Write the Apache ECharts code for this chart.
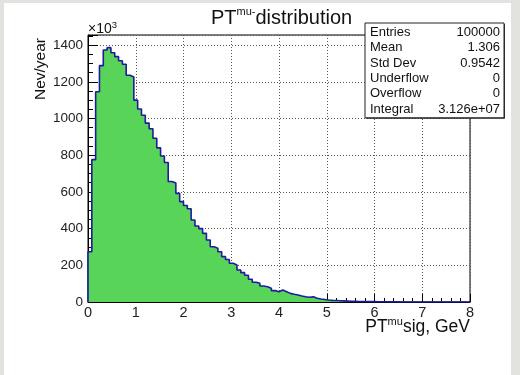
<!DOCTYPE html>
<html><head><meta charset="utf-8">
<script src="https://cdn.jsdelivr.net/npm/echarts@6/dist/echarts.min.js"></script>
<style>html,body{margin:0;padding:0;background:#fff}#c{width:520px;height:375px}</style>
</head><body><div id="c"></div>
<script>
// Histogram: PT(mu-) distribution, bin contents in units of 10^3 (Nev/year)
const binWidth = 0.08;
const xMin = 0, xMax = 8;
const yMax = 1455;
const counts = [
  274, 776, 1146, 1288, 1373, 1386, 1358, 1337, 1315, 1296,
  1236, 1226, 1100, 1052, 1018, 975, 944, 892, 840, 796,
  760, 657, 648, 592, 547, 526, 508, 447, 414, 400,
  374, 338, 301, 293, 274, 247, 232, 211, 202, 174,
  160, 146, 124, 108, 102, 87, 83, 75, 62, 56,
  65, 56, 47, 42, 38, 33, 29, 26, 28, 20,
  16, 14, 11, 9, 8, 7, 6, 5, 4, 4,
  3, 3, 2, 2, 2, 1.5, 1.2, 1, 0.8, 0.6,
  0.5, 0.4, 0.3, 0.3, 0.2, 0.2, 0.2, 0.1, 0.1, 0.1,
  0.1, 0.1, 0, 0, 0.1, 0, 0, 0, 0, 0
];
const xTickLabels = ['0','1','2','3','4','5','6','7','8'];
const yTickStep = 200;
const statsLabels = ['Entries', 'Mean', 'Std Dev', 'Underflow', 'Overflow', 'Integral'];
const statsValues = ['100000', '1.306', '0.9542', '0', '0', '3.126e+07'];
const titleParts = ['PT', 'mu-', 'distribution'];
const xNameParts = ['PT', 'mu', 'sig, GeV'];
const yName = 'Nev/year';
const yExponent = ['\u00d710', '3'];

const FONT = "'Liberation Sans', Arial, Helvetica, sans-serif";

// step-line points: low edge of each bin with its content
const pts = [[xMin, 0]];
counts.forEach((v, i) => pts.push([xMin + i * binWidth, v]));
pts.push([xMax, counts[counts.length - 1]]);
pts.push([xMax, 0]);

const chart = echarts.init(document.getElementById('c'), null, {renderer: 'canvas'});

const statsChildren = [];
const boxL = 365, boxT = 23, boxR = 504, rowH = 15.3;
statsChildren.push({type: 'rect', shape: {x: boxL + 1, y: boxT + 1, width: boxR - boxL, height: rowH * 6 + 3}, style: {fill: '#333'}, z: 10});
statsChildren.push({type: 'rect', shape: {x: boxL, y: boxT, width: boxR - boxL, height: rowH * 6 + 3}, style: {fill: '#fff', stroke: '#222', lineWidth: 1}, z: 11});
statsLabels.forEach((lab, i) => {
  statsChildren.push({type: 'text', x: boxL + 5, y: boxT + 9.5 + i * rowH, z: 12,
    style: {text: lab, font: '13px ' + FONT, fill: '#111', verticalAlign: 'middle', align: 'left'}});
  statsChildren.push({type: 'text', x: boxR - 4, y: boxT + 9.5 + i * rowH, z: 12,
    style: {text: statsValues[i], font: '13px ' + FONT, fill: '#111', verticalAlign: 'middle', align: 'right'}});
});

chart.setOption({
  animation: false,
  backgroundColor: '#fff',
  title: {
    text: '{a|' + titleParts[0] + '}{s|' + titleParts[1] + '}{a|' + titleParts[2] + '}',
    left: 206, top: 0,
    textStyle: {
      fontWeight: 'normal',
      rich: {
        a: {fontFamily: FONT, fontSize: 20, fontWeight: 'normal', color: '#111', lineHeight: 23, verticalAlign: 'bottom'},
        s: {fontFamily: FONT, fontSize: 11, fontWeight: 'normal', color: '#111', lineHeight: 23, verticalAlign: 'top', padding: [1, 0, 0, 0]}
      }
    }
  },
  grid: {left: 88, top: 35, width: 382, height: 267, show: true, borderColor: '#000', borderWidth: 1, backgroundColor: 'transparent'},
  xAxis: {
    type: 'value', min: xMin, max: xMax, interval: 1,
    axisLine: {show: true, onZero: false, lineStyle: {color: '#000', width: 1}},
    axisTick: {show: true, inside: true, length: 8, lineStyle: {color: '#000'}},
    minorTick: {show: true, splitNumber: 5, length: 4, lineStyle: {color: '#000'}},
    splitLine: {show: true, lineStyle: {color: '#555', width: 1, type: [1, 2]}},
    axisLabel: {fontFamily: FONT, fontSize: 14.5, color: '#222', margin: 3,
      formatter: v => xTickLabels[Math.round(v)] || ''}
  },
  yAxis: {
    type: 'value', min: 0, max: yMax, interval: yTickStep,
    axisLine: {show: true, lineStyle: {color: '#000', width: 1}},
    axisTick: {show: true, inside: true, length: 10, lineStyle: {color: '#000'}},
    minorTick: {show: true, splitNumber: 4, length: 5, lineStyle: {color: '#000'}},
    splitLine: {show: true, lineStyle: {color: '#555', width: 1, type: [1, 2]}},
    axisLabel: {fontFamily: FONT, fontSize: 13.5, color: '#222', margin: 5, showMaxLabel: false,
      formatter: v => String(Math.round(v))}
  },
  series: [{
    type: 'line', step: 'end', symbol: 'none', data: pts,
    lineStyle: {color: '#1c1c9c', width: 1.6},
    areaStyle: {color: '#58d458', opacity: 1},
    z: 2
  }],
  graphic: [
    {type: 'rect', shape: {x: 0, y: 0, width: 4, height: 375}, style: {fill: '#e2e2de'}, silent: true},
    {type: 'rect', shape: {x: 0, y: 0, width: 520, height: 3}, style: {fill: '#e2e2de'}, silent: true},
    {type: 'rect', shape: {x: 511, y: 0, width: 9, height: 375}, style: {fill: '#e2e2de'}, silent: true},
    {type: 'text', x: 41, y: 38, rotation: Math.PI / 2,
      style: {text: yName, font: '15.5px ' + FONT, fill: '#111', align: 'right', verticalAlign: 'middle'}},
    {type: 'text', x: 88, y: 20,
      style: {text: '{a|' + yExponent[0] + '}{s|' + yExponent[1] + '}',
        rich: {a: {fontFamily: FONT, fontSize: 14, fill: '#111', lineHeight: 16, verticalAlign: 'bottom'},
               s: {fontFamily: FONT, fontSize: 9.5, fill: '#111', lineHeight: 16, verticalAlign: 'top'}}}},
    {type: 'text', x: 470, y: 316,
      style: {text: '{a|' + xNameParts[0] + '}{s|' + xNameParts[1] + '}{a|' + xNameParts[2] + '}',
        align: 'right',
        rich: {a: {fontFamily: FONT, fontSize: 17.5, fill: '#111', lineHeight: 20, verticalAlign: 'bottom'},
               s: {fontFamily: FONT, fontSize: 11, fill: '#111', lineHeight: 20, verticalAlign: 'top'}}}},
    {type: 'group', children: statsChildren}
  ]
});
</script></body></html>
